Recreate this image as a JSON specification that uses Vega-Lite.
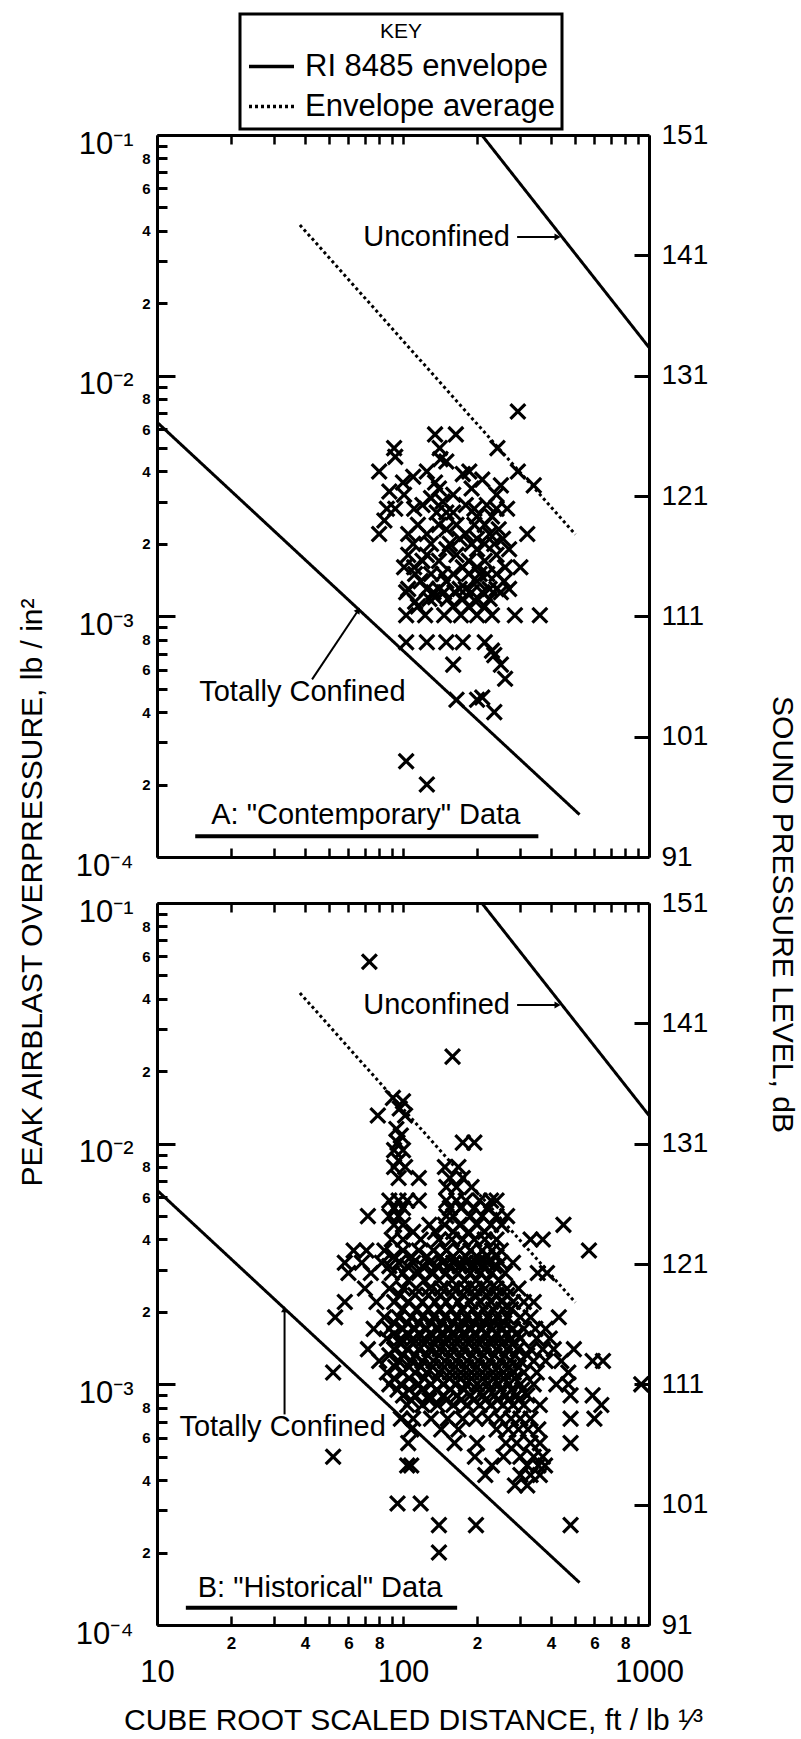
{
"$schema": "https://vega.github.io/schema/vega-lite/v6.json",
"background": "white",
"padding": {"left": 17, "top": 12, "right": 6, "bottom": 0},
"autosize": {"type": "pad"},
"bounds": "flush",
"spacing": 46,
"config": {"font": "Liberation Sans", "view": {"stroke": null}, "axis": {"grid": false}, "legend": {"strokeWidth": 3}},
"datasets": {
"env": [
{"g":"u","t":"RI 8485 envelope","x":209,"y":0.1},
{"g":"u","t":"RI 8485 envelope","x":1000,"y":0.0131},
{"g":"c","t":"RI 8485 envelope","x":10,"y":0.00641},
{"g":"c","t":"RI 8485 envelope","x":522,"y":0.00015},
{"g":"a","t":"Envelope average","x":38.1,"y":0.0423},
{"g":"a","t":"Envelope average","x":502,"y":0.00219}
],
"txt": [
{"p":"A","x":137,"y":0.0377,"t":"Unconfined"},
{"p":"A","x":39,"y":0.000483,"t":"Totally Confined"},
{"p":"A","x":70.6,"y":0.000149,"t":"A: \"Contemporary\" Data"},
{"p":"B","x":137,"y":0.0377,"t":"Unconfined"},
{"p":"B","x":32.4,"y":0.000662,"t":"Totally Confined"},
{"p":"B","x":46,"y":0.000143,"t":"B: \"Historical\" Data"}
],
"rules": [
{"p":"A","k":"u","x":14.3,"x2":355,"y":0.000122,"y2":0.000122},
{"p":"A","k":"a","x":291,"x2":425,"y":0.0377,"y2":0.0377},
{"p":"A","k":"a","x":42.7,"x2":65.8,"y":0.000547,"y2":0.00106},
{"p":"B","k":"u","x":13.1,"x2":166,"y":0.000118,"y2":0.000118},
{"p":"B","k":"a","x":291,"x2":425,"y":0.0377,"y2":0.0377},
{"p":"B","k":"a","x":33,"x2":33,"y":0.00075,"y2":0.00205}
],
"heads": [
{"p":"A","x":425,"y":0.0377,"a":90},
{"p":"A","x":65.8,"y":0.00106,"a":34},
{"p":"B","x":425,"y":0.0377,"a":90},
{"p":"B","x":33,"y":0.00205,"a":0}
],
"db": [{"db":91},{"db":151}],
"ptsA": [
{"x":293,"y":0.0071},{"x":135,"y":0.0057},{"x":164,"y":0.0057},{"x":242,"y":0.005},{"x":92,"y":0.005},{"x":93,"y":0.0046},{"x":141,"y":0.005},{"x":142,"y":0.0045},{"x":80,"y":0.004},{"x":125,"y":0.004},{"x":186,"y":0.004},{"x":293,"y":0.004},{"x":340,"y":0.0035},{"x":135,"y":0.0036},{"x":140,"y":0.0034},{"x":250,"y":0.0035},{"x":101,"y":0.0032},{"x":86,"y":0.0028},{"x":93,"y":0.0028},{"x":111,"y":0.0028},{"x":137,"y":0.0027},{"x":150,"y":0.0027},{"x":180,"y":0.0029},{"x":219,"y":0.0029},{"x":265,"y":0.0028},{"x":84,"y":0.0025},{"x":80,"y":0.0022},{"x":105,"y":0.0022},{"x":125,"y":0.0022},{"x":150,"y":0.0023},{"x":180,"y":0.0022},{"x":225,"y":0.0022},{"x":245,"y":0.0023},{"x":320,"y":0.0022},{"x":105,"y":0.0018},{"x":125,"y":0.0018},{"x":150,"y":0.0019},{"x":165,"y":0.0018},{"x":200,"y":0.0019},{"x":240,"y":0.0018},{"x":270,"y":0.0019},{"x":101,"y":0.0016},{"x":111,"y":0.0016},{"x":145,"y":0.0015},{"x":175,"y":0.0016},{"x":200,"y":0.0016},{"x":260,"y":0.0016},{"x":300,"y":0.0016},{"x":105,"y":0.0013},{"x":125,"y":0.0013},{"x":150,"y":0.0014},{"x":200,"y":0.0014},{"x":240,"y":0.0013},{"x":270,"y":0.0013},{"x":103,"y":0.00126},{"x":133,"y":0.00126},{"x":147,"y":0.00126},{"x":162,"y":0.00126},{"x":190,"y":0.00126},{"x":210,"y":0.00126},{"x":250,"y":0.00126},{"x":103,"y":0.00101},{"x":123,"y":0.00101},{"x":147,"y":0.00101},{"x":172,"y":0.00101},{"x":200,"y":0.00101},{"x":230,"y":0.00101},{"x":285,"y":0.00101},{"x":360,"y":0.00101},{"x":103,"y":0.00078},{"x":125,"y":0.00078},{"x":150,"y":0.00078},{"x":175,"y":0.00078},{"x":215,"y":0.00078},{"x":235,"y":0.00069},{"x":230,"y":0.00072},{"x":160,"y":0.00063},{"x":250,"y":0.00063},{"x":260,"y":0.00055},{"x":165,"y":0.00045},{"x":200,"y":0.00045},{"x":210,"y":0.00046},{"x":235,"y":0.0004},{"x":103,"y":0.00025},{"x":125,"y":0.0002},
{"x":115,"y":0.0011},{"x":135,"y":0.0012},{"x":160,"y":0.0011},{"x":185,"y":0.0011},{"x":215,"y":0.0011},{"x":118,"y":0.0014},{"x":140,"y":0.0013},{"x":170,"y":0.0013},{"x":185,"y":0.0015},{"x":220,"y":0.0015},{"x":120,"y":0.0017},{"x":140,"y":0.0017},{"x":185,"y":0.0017},{"x":215,"y":0.0017},{"x":235,"y":0.002},{"x":255,"y":0.0021},{"x":130,"y":0.002},{"x":110,"y":0.002},{"x":170,"y":0.0021},{"x":200,"y":0.0021},{"x":145,"y":0.003},{"x":160,"y":0.0032},{"x":120,"y":0.0029},{"x":200,"y":0.0026},{"x":230,"y":0.0026},{"x":240,"y":0.0032},{"x":190,"y":0.0034},{"x":175,"y":0.0039},{"x":150,"y":0.0044},{"x":130,"y":0.0031},{"x":210,"y":0.0037},{"x":100,"y":0.0036},{"x":88,"y":0.0033},{"x":110,"y":0.0038},
{"x":112,"y":0.00115},{"x":128,"y":0.00118},{"x":152,"y":0.00118},{"x":175,"y":0.00118},{"x":198,"y":0.00115},{"x":225,"y":0.00118},{"x":112,"y":0.0015},{"x":130,"y":0.0015},{"x":160,"y":0.0015},{"x":205,"y":0.0015},{"x":240,"y":0.0015},{"x":115,"y":0.0024},{"x":140,"y":0.0024},{"x":165,"y":0.0024},{"x":195,"y":0.0024},{"x":215,"y":0.0024},{"x":155,"y":0.002},{"x":190,"y":0.002},{"x":215,"y":0.002},{"x":160,"y":0.0027},{"x":195,"y":0.0028},{"x":240,"y":0.0028},{"x":180,"y":0.0013},{"x":225,"y":0.0013},{"x":258,"y":0.0014}
],
"ptsB": [
{"x":73,"y":0.057},{"x":159,"y":0.023},{"x":91,"y":0.0155},{"x":100,"y":0.015},{"x":97,"y":0.014},{"x":79,"y":0.0131},{"x":102,"y":0.0131},{"x":94,"y":0.0115},{"x":98,"y":0.0108},{"x":95,"y":0.0101},{"x":175,"y":0.0101},{"x":195,"y":0.0101},{"x":92,"y":0.0094},{"x":100,"y":0.0094},{"x":96,"y":0.0085},
{"x":92,"y":0.008},{"x":102,"y":0.008},{"x":148,"y":0.008},{"x":168,"y":0.008},
{"x":96,"y":0.0072},{"x":116,"y":0.0072},{"x":155,"y":0.0072},{"x":175,"y":0.0072},
{"x":150,"y":0.0066},{"x":165,"y":0.0066},{"x":190,"y":0.0066},
{"x":88,"y":0.0058},{"x":96,"y":0.0058},{"x":104,"y":0.0058},{"x":116,"y":0.0058},{"x":150,"y":0.0058},{"x":165,"y":0.0058},{"x":180,"y":0.0058},{"x":205,"y":0.0058},{"x":228,"y":0.0058},{"x":240,"y":0.0058},
{"x":92,"y":0.0054},{"x":100,"y":0.0054},{"x":155,"y":0.0054},{"x":172,"y":0.0054},{"x":195,"y":0.0054},{"x":220,"y":0.0054},
{"x":72,"y":0.005},{"x":88,"y":0.005},{"x":96,"y":0.005},{"x":150,"y":0.005},{"x":160,"y":0.005},{"x":188,"y":0.005},{"x":210,"y":0.005},{"x":240,"y":0.005},{"x":265,"y":0.005},
{"x":92,"y":0.0046},{"x":100,"y":0.0046},{"x":128,"y":0.0046},{"x":148,"y":0.0046},{"x":170,"y":0.0046},{"x":200,"y":0.0046},{"x":228,"y":0.0046},{"x":252,"y":0.0046},{"x":449,"y":0.0046},
{"x":110,"y":0.0043},{"x":135,"y":0.0043},{"x":160,"y":0.0043},{"x":185,"y":0.0043},{"x":215,"y":0.0043},
{"x":90,"y":0.004},{"x":100,"y":0.004},{"x":118,"y":0.004},{"x":140,"y":0.004},{"x":158,"y":0.004},{"x":175,"y":0.004},{"x":195,"y":0.004},{"x":215,"y":0.004},{"x":240,"y":0.004},{"x":330,"y":0.004},{"x":370,"y":0.004},
{"x":63,"y":0.0036},{"x":71,"y":0.0036},{"x":84,"y":0.0036},{"x":100,"y":0.0036},{"x":116,"y":0.0036},{"x":133,"y":0.0036},{"x":150,"y":0.0036},{"x":170,"y":0.0036},{"x":188,"y":0.0036},{"x":210,"y":0.0036},{"x":230,"y":0.0036},{"x":250,"y":0.0036},{"x":570,"y":0.0036},
{"x":92,"y":0.0034},{"x":108,"y":0.0034},{"x":125,"y":0.0034},{"x":142,"y":0.0034},{"x":160,"y":0.0034},{"x":180,"y":0.0034},{"x":200,"y":0.0034},{"x":220,"y":0.0034},{"x":240,"y":0.0034},
{"x":58,"y":0.0032},{"x":68,"y":0.0032},{"x":82,"y":0.0032},{"x":96,"y":0.0032},{"x":110,"y":0.0032},{"x":128,"y":0.0032},{"x":145,"y":0.0032},{"x":160,"y":0.0032},{"x":180,"y":0.0032},{"x":200,"y":0.0032},{"x":220,"y":0.0032},{"x":250,"y":0.0032},{"x":280,"y":0.0032},
{"x":88,"y":0.0031},{"x":104,"y":0.0031},{"x":120,"y":0.0031},{"x":137,"y":0.0031},{"x":153,"y":0.0031},{"x":170,"y":0.0031},{"x":190,"y":0.0031},{"x":210,"y":0.0031},{"x":235,"y":0.0031},
{"x":60,"y":0.0029},{"x":74,"y":0.0029},{"x":90,"y":0.0029},{"x":100,"y":0.0029},{"x":116,"y":0.0029},{"x":133,"y":0.0029},{"x":150,"y":0.0029},{"x":168,"y":0.0029},{"x":188,"y":0.0029},{"x":207,"y":0.0029},{"x":230,"y":0.0029},{"x":260,"y":0.0029},{"x":353,"y":0.0029},{"x":385,"y":0.0029},
{"x":105,"y":0.0027},{"x":122,"y":0.0027},{"x":140,"y":0.0027},{"x":158,"y":0.0027},{"x":178,"y":0.0027},{"x":198,"y":0.0027},{"x":220,"y":0.0027},{"x":245,"y":0.0027},
{"x":70,"y":0.0025},{"x":88,"y":0.0025},{"x":100,"y":0.0025},{"x":113,"y":0.0025},{"x":128,"y":0.0025},{"x":143,"y":0.0025},{"x":160,"y":0.0025},{"x":178,"y":0.0025},{"x":196,"y":0.0025},{"x":216,"y":0.0025},{"x":240,"y":0.0025},{"x":265,"y":0.0025},{"x":295,"y":0.0025},
{"x":97,"y":0.00235},{"x":112,"y":0.00235},{"x":127,"y":0.00235},{"x":142,"y":0.00235},{"x":158,"y":0.00235},{"x":176,"y":0.00235},{"x":196,"y":0.00235},{"x":218,"y":0.00235},{"x":240,"y":0.00235},{"x":265,"y":0.00235},
{"x":58,"y":0.0022},{"x":78,"y":0.0022},{"x":92,"y":0.0022},{"x":105,"y":0.0022},{"x":120,"y":0.0022},{"x":135,"y":0.0022},{"x":150,"y":0.0022},{"x":168,"y":0.0022},{"x":188,"y":0.0022},{"x":207,"y":0.0022},{"x":228,"y":0.0022},{"x":252,"y":0.0022},{"x":280,"y":0.0022},{"x":310,"y":0.0022},{"x":340,"y":0.0022},
{"x":100,"y":0.00205},{"x":114,"y":0.00205},{"x":127,"y":0.00205},{"x":141,"y":0.00205},{"x":157,"y":0.00205},{"x":174,"y":0.00205},{"x":192,"y":0.00205},{"x":212,"y":0.00205},{"x":232,"y":0.00205},{"x":255,"y":0.00205},{"x":275,"y":0.00205},
{"x":53,"y":0.0019},{"x":84,"y":0.0019},{"x":96,"y":0.0019},{"x":108,"y":0.0019},{"x":120,"y":0.0019},{"x":133,"y":0.0019},{"x":148,"y":0.0019},{"x":165,"y":0.0019},{"x":180,"y":0.0019},{"x":200,"y":0.0019},{"x":220,"y":0.0019},{"x":240,"y":0.0019},{"x":265,"y":0.0019},{"x":300,"y":0.0019},{"x":330,"y":0.0019},{"x":430,"y":0.0019},
{"x":92,"y":0.0018},{"x":104,"y":0.0018},{"x":116,"y":0.0018},{"x":130,"y":0.0018},{"x":144,"y":0.0018},{"x":160,"y":0.0018},{"x":176,"y":0.0018},{"x":195,"y":0.0018},{"x":215,"y":0.0018},{"x":235,"y":0.0018},{"x":258,"y":0.0018},
{"x":76,"y":0.0017},{"x":88,"y":0.0017},{"x":100,"y":0.0017},{"x":112,"y":0.0017},{"x":125,"y":0.0017},{"x":140,"y":0.0017},{"x":155,"y":0.0017},{"x":172,"y":0.0017},{"x":190,"y":0.0017},{"x":210,"y":0.0017},{"x":232,"y":0.0017},{"x":255,"y":0.0017},{"x":280,"y":0.0017},{"x":310,"y":0.0017},{"x":345,"y":0.0017},{"x":380,"y":0.0017},
{"x":92,"y":0.00162},{"x":104,"y":0.00162},{"x":116,"y":0.00162},{"x":129,"y":0.00162},{"x":143,"y":0.00162},{"x":158,"y":0.00162},{"x":175,"y":0.00162},{"x":195,"y":0.00162},{"x":217,"y":0.00162},{"x":240,"y":0.00162},{"x":262,"y":0.00162},{"x":290,"y":0.00162},
{"x":86,"y":0.00155},{"x":98,"y":0.00155},{"x":110,"y":0.00155},{"x":122,"y":0.00155},{"x":136,"y":0.00155},{"x":150,"y":0.00155},{"x":166,"y":0.00155},{"x":185,"y":0.00155},{"x":205,"y":0.00155},{"x":228,"y":0.00155},{"x":250,"y":0.00155},{"x":275,"y":0.00155},{"x":300,"y":0.00155},{"x":350,"y":0.00155},{"x":395,"y":0.00155},
{"x":98,"y":0.00147},{"x":110,"y":0.00147},{"x":122,"y":0.00147},{"x":135,"y":0.00147},{"x":149,"y":0.00147},{"x":166,"y":0.00147},{"x":185,"y":0.00147},{"x":205,"y":0.00147},{"x":228,"y":0.00147},{"x":252,"y":0.00147},{"x":278,"y":0.00147},
{"x":72,"y":0.0014},{"x":92,"y":0.0014},{"x":104,"y":0.0014},{"x":116,"y":0.0014},{"x":128,"y":0.0014},{"x":141,"y":0.0014},{"x":157,"y":0.0014},{"x":175,"y":0.0014},{"x":195,"y":0.0014},{"x":215,"y":0.0014},{"x":240,"y":0.0014},{"x":265,"y":0.0014},{"x":292,"y":0.0014},{"x":330,"y":0.0014},{"x":370,"y":0.0014},{"x":410,"y":0.0014},{"x":495,"y":0.0014},
{"x":88,"y":0.00132},{"x":100,"y":0.00132},{"x":112,"y":0.00132},{"x":126,"y":0.00132},{"x":140,"y":0.00132},{"x":156,"y":0.00132},{"x":173,"y":0.00132},{"x":192,"y":0.00132},{"x":213,"y":0.00132},{"x":236,"y":0.00132},{"x":260,"y":0.00132},{"x":286,"y":0.00132},{"x":320,"y":0.00132},
{"x":80,"y":0.00125},{"x":96,"y":0.00125},{"x":108,"y":0.00125},{"x":120,"y":0.00125},{"x":133,"y":0.00125},{"x":148,"y":0.00125},{"x":164,"y":0.00125},{"x":182,"y":0.00125},{"x":202,"y":0.00125},{"x":224,"y":0.00125},{"x":248,"y":0.00125},{"x":272,"y":0.00125},{"x":300,"y":0.00125},{"x":340,"y":0.00125},{"x":380,"y":0.00125},{"x":440,"y":0.00125},{"x":590,"y":0.00125},{"x":650,"y":0.00125},
{"x":93,"y":0.00118},{"x":106,"y":0.00118},{"x":118,"y":0.00118},{"x":132,"y":0.00118},{"x":147,"y":0.00118},{"x":163,"y":0.00118},{"x":181,"y":0.00118},{"x":200,"y":0.00118},{"x":221,"y":0.00118},{"x":244,"y":0.00118},{"x":270,"y":0.00118},{"x":295,"y":0.00118},
{"x":52,"y":0.00112},{"x":86,"y":0.00112},{"x":100,"y":0.00112},{"x":112,"y":0.00112},{"x":125,"y":0.00112},{"x":140,"y":0.00112},{"x":155,"y":0.00112},{"x":172,"y":0.00112},{"x":190,"y":0.00112},{"x":210,"y":0.00112},{"x":232,"y":0.00112},{"x":256,"y":0.00112},{"x":282,"y":0.00112},{"x":310,"y":0.00112},{"x":350,"y":0.00112},{"x":470,"y":0.00112},
{"x":92,"y":0.00106},{"x":106,"y":0.00106},{"x":122,"y":0.00106},{"x":138,"y":0.00106},{"x":155,"y":0.00106},{"x":172,"y":0.00106},{"x":190,"y":0.00106},{"x":211,"y":0.00106},{"x":233,"y":0.00106},{"x":257,"y":0.00106},{"x":285,"y":0.00106},
{"x":88,"y":0.001},{"x":98,"y":0.001},{"x":116,"y":0.001},{"x":130,"y":0.001},{"x":146,"y":0.001},{"x":163,"y":0.001},{"x":180,"y":0.001},{"x":200,"y":0.001},{"x":222,"y":0.001},{"x":245,"y":0.001},{"x":270,"y":0.001},{"x":300,"y":0.001},{"x":340,"y":0.001},{"x":420,"y":0.001},{"x":470,"y":0.001},{"x":930,"y":0.001},
{"x":95,"y":0.00095},{"x":106,"y":0.00095},{"x":120,"y":0.00095},{"x":137,"y":0.00095},{"x":156,"y":0.00095},{"x":177,"y":0.00095},{"x":200,"y":0.00095},{"x":224,"y":0.00095},{"x":249,"y":0.00095},{"x":276,"y":0.00095},{"x":305,"y":0.00095},
{"x":100,"y":0.0009},{"x":112,"y":0.0009},{"x":128,"y":0.0009},{"x":146,"y":0.0009},{"x":166,"y":0.0009},{"x":188,"y":0.0009},{"x":212,"y":0.0009},{"x":236,"y":0.0009},{"x":262,"y":0.0009},{"x":290,"y":0.0009},{"x":320,"y":0.0009},{"x":480,"y":0.0009},{"x":590,"y":0.0009},
{"x":108,"y":0.00086},{"x":128,"y":0.00086},{"x":150,"y":0.00086},{"x":172,"y":0.00086},{"x":194,"y":0.00086},{"x":216,"y":0.00086},{"x":242,"y":0.00086},{"x":268,"y":0.00086},{"x":295,"y":0.00086},
{"x":104,"y":0.00082},{"x":120,"y":0.00082},{"x":138,"y":0.00082},{"x":160,"y":0.00082},{"x":182,"y":0.00082},{"x":205,"y":0.00082},{"x":228,"y":0.00082},{"x":255,"y":0.00082},{"x":280,"y":0.00082},{"x":310,"y":0.00082},{"x":360,"y":0.00082},{"x":640,"y":0.00082},
{"x":98,"y":0.00072},{"x":110,"y":0.00072},{"x":130,"y":0.00072},{"x":152,"y":0.00072},{"x":175,"y":0.00072},{"x":198,"y":0.00072},{"x":222,"y":0.00072},{"x":248,"y":0.00072},{"x":275,"y":0.00072},{"x":300,"y":0.00072},{"x":330,"y":0.00072},{"x":480,"y":0.00072},{"x":600,"y":0.00072},
{"x":108,"y":0.00065},{"x":143,"y":0.00065},{"x":168,"y":0.00065},{"x":240,"y":0.00065},{"x":268,"y":0.00065},{"x":295,"y":0.00065},{"x":322,"y":0.00065},{"x":355,"y":0.00065},
{"x":105,"y":0.00057},{"x":162,"y":0.00057},{"x":200,"y":0.00057},{"x":262,"y":0.00057},{"x":290,"y":0.00057},{"x":330,"y":0.00057},{"x":360,"y":0.00057},{"x":480,"y":0.00057},
{"x":52,"y":0.0005},{"x":196,"y":0.0005},{"x":256,"y":0.0005},{"x":300,"y":0.0005},{"x":340,"y":0.0005},{"x":370,"y":0.0005},
{"x":104,"y":0.00046},{"x":108,"y":0.00046},{"x":230,"y":0.00046},{"x":320,"y":0.00046},{"x":355,"y":0.00046},{"x":378,"y":0.00046},
{"x":216,"y":0.00042},{"x":300,"y":0.00042},{"x":330,"y":0.00042},{"x":360,"y":0.00042},
{"x":285,"y":0.00038},{"x":320,"y":0.00038},
{"x":95,"y":0.00032},{"x":118,"y":0.00032},
{"x":140,"y":0.00026},{"x":198,"y":0.00026},{"x":480,"y":0.00026},
{"x":140,"y":0.0002}
]
},
"vconcat": [
{
"width": 492, "height": 722,
"layer": [
{
"data": {"name": "ptsA"},
"mark": {"type": "point", "shape": "M-1,-1L1,1M-1,1L1,-1", "filled": false, "stroke": "black", "strokeWidth": 3.2, "size": 220, "opacity": 1},
"encoding": {
"x": {"field": "x", "type": "quantitative", "scale": {"type": "log", "domain": [10, 1000], "nice": false},
 "axis": {"orient": "bottom", "values": [10,20,30,40,50,60,70,80,90,100,200,300,400,500,600,700,800,900,1000], "labels": false, "title": null, "domain": true, "domainColor": "black", "domainWidth": 3, "ticks": true, "tickColor": "black", "tickWidth": 2.5, "tickSize": -9, "grid": false}},
"y": {"field": "y", "type": "quantitative", "scale": {"type": "log", "domain": [0.0001, 0.1], "nice": false},
 "axis": {"orient": "left", "values": [0.0001,0.0002,0.0003,0.0004,0.0005,0.0006,0.0007,0.0008,0.0009,0.001,0.002,0.003,0.004,0.005,0.006,0.007,0.008,0.009,0.01,0.02,0.03,0.04,0.05,0.06,0.07,0.08,0.09,0.1],
  "domain": true, "domainColor": "black", "domainWidth": 3, "ticks": true, "tickColor": "black", "tickWidth": 3,
  "tickSize": {"condition": {"test": "indexof([0.0001,0.001,0.01,0.1], datum.value) >= 0", "value": -18}, "value": -10},
  "labelExpr": "datum.value == 0.1 ? '10⁻¹' : datum.value == 0.01 ? '10⁻²' : datum.value == 0.001 ? '10⁻³' : datum.value == 0.0001 ? '10⁻⁴' : (indexof([0.0002,0.0004,0.0006,0.0008,0.002,0.004,0.006,0.008,0.02,0.04,0.06,0.08], datum.value) >= 0 ? format(datum.value * pow(10, -floor(log(datum.value) / LN10 + 0.000001)), '.0f') : '')",
  "labelFontSize": {"condition": {"test": "indexof([0.0001,0.001,0.01,0.1], datum.value) >= 0", "value": 31}, "value": 15},
  "labelFontWeight": {"condition": {"test": "indexof([0.0001,0.001,0.01,0.1], datum.value) >= 0", "value": "normal"}, "value": "bold"},
  "labelPadding": {"condition": {"test": "indexof([0.0001,0.001,0.01,0.1], datum.value) >= 0", "value": 42}, "value": 17},
  "labelOffset": {"condition": {"test": "indexof([0.0001,0.001,0.01,0.1], datum.value) >= 0", "value": 9}, "value": 0},
  "labelBaseline": "middle", "labelAlign": "right", "labelColor": "black", "labelOverlap": false, "labelFlush": false, "labelBound": false, "grid": false,
  "title": "PEAK AIRBLAST OVERPRESSURE, lb / in²", "titleFontSize": 30, "titleFontWeight": "normal", "titleColor": "black", "titleAngle": 270, "titleX": -125, "titleY": 757, "titleAlign": "center", "titleBaseline": "middle"}}
}
},
{
"data": {"name": "env"},
"mark": {"type": "line", "clip": true, "strokeWidth": 3, "color": "black"},
"encoding": {
"x": {"field": "x", "type": "quantitative", "scale": {"type": "log", "domain": [10, 1000], "nice": false},
 "axis": {"orient": "top", "values": [10,20,30,40,50,60,70,80,90,100,200,300,400,500,600,700,800,900,1000], "labels": false, "title": null, "domain": true, "domainColor": "black", "domainWidth": 3, "ticks": true, "tickColor": "black", "tickWidth": 2.5, "tickSize": -9, "grid": false}},
"y": {"field": "y", "type": "quantitative", "scale": {"type": "log", "domain": [0.0001, 0.1], "nice": false}, "axis": null},
"detail": {"field": "g", "type": "nominal"},
"strokeDash": {"field": "t", "type": "nominal", "scale": {"domain": ["RI 8485 envelope", "Envelope average"], "range": [[1, 0], [3, 3]]},
 "legend": {"orient": "none", "legendX": 83, "legendY": -121, "title": "KEY", "titleFontSize": 21, "titleFontWeight": "normal", "titleColor": "black", "titleAnchor": "middle", "titlePadding": 0,
  "labelFontSize": 31, "labelLimit": 500, "labelColor": "black", "labelOffset": 9, "symbolType": "stroke", "symbolSize": 2025, "symbolStrokeWidth": 3.5, "symbolStrokeColor": "black", "strokeColor": "black", "padding": 7, "rowPadding": 0}}
}
},
{
"data": {"name": "txt"},
"transform": [{"filter": "datum.p == 'A'"}],
"mark": {"type": "text", "fontSize": 29, "align": "center", "baseline": "middle", "color": "black"},
"encoding": {
"x": {"field": "x", "type": "quantitative", "scale": {"type": "log", "domain": [10, 1000], "nice": false}, "axis": null},
"y": {"field": "y", "type": "quantitative", "scale": {"type": "log", "domain": [0.0001, 0.1], "nice": false}, "axis": null},
"text": {"field": "t", "type": "nominal"}
}
},
{
"data": {"name": "rules"},
"transform": [{"filter": "datum.p == 'A'"}],
"mark": {"type": "rule", "color": "black"},
"encoding": {
"x": {"field": "x", "type": "quantitative", "scale": {"type": "log", "domain": [10, 1000], "nice": false}, "axis": null},
"x2": {"field": "x2"},
"y": {"field": "y", "type": "quantitative", "scale": {"type": "log", "domain": [0.0001, 0.1], "nice": false}, "axis": null},
"y2": {"field": "y2"},
"strokeWidth": {"condition": {"test": "datum.k == 'u'", "value": 4}, "value": 2}
}
},
{
"data": {"name": "heads"},
"transform": [{"filter": "datum.p == 'A'"}],
"mark": {"type": "point", "shape": "triangle-up", "filled": true, "color": "black", "size": 50, "opacity": 1},
"encoding": {
"x": {"field": "x", "type": "quantitative", "scale": {"type": "log", "domain": [10, 1000], "nice": false}, "axis": null},
"y": {"field": "y", "type": "quantitative", "scale": {"type": "log", "domain": [0.0001, 0.1], "nice": false}, "axis": null},
"angle": {"field": "a", "type": "quantitative", "scale": null}
}
},
{
"data": {"name": "db"},
"mark": {"type": "point", "opacity": 0},
"encoding": {
"y": {"field": "db", "type": "quantitative", "scale": {"domain": [91, 151], "nice": false, "zero": false},
 "axis": {"orient": "right", "values": [91,101,111,121,131,141,151], "format": "d", "domain": true, "domainColor": "black", "domainWidth": 3, "ticks": true, "tickColor": "black", "tickWidth": 3,
  "tickSize": {"condition": {"test": "datum.value == 91 || datum.value == 151", "value": 0}, "value": -15},
  "labelPadding": {"condition": {"test": "datum.value == 91 || datum.value == 151", "value": 12}, "value": 27},
  "labelFontSize": 28, "labelColor": "black", "labelBaseline": "middle", "labelOverlap": false, "labelFlush": false, "labelBound": false, "grid": false,
  "title": "SOUND PRESSURE LEVEL, dB", "titleFontSize": 30, "titleFontWeight": "normal", "titleColor": "black", "titleAngle": 90, "titleX": 132, "titleY": 779, "titleAlign": "center", "titleBaseline": "middle"}}
}
}
],
"resolve": {"scale": {"y": "independent"}, "axis": {"x": "independent", "y": "independent"}}
},
{
"width": 492, "height": 722,
"layer": [
{
"data": {"name": "ptsB"},
"mark": {"type": "point", "shape": "M-1,-1L1,1M-1,1L1,-1", "filled": false, "stroke": "black", "strokeWidth": 3.2, "size": 220, "opacity": 1},
"encoding": {
"x": {"field": "x", "type": "quantitative", "scale": {"type": "log", "domain": [10, 1000], "nice": false},
 "axis": {"orient": "bottom", "values": [10,20,30,40,50,60,70,80,90,100,200,300,400,500,600,700,800,900,1000], "domain": true, "domainColor": "black", "domainWidth": 3, "ticks": true, "tickColor": "black", "tickWidth": 2.5, "tickSize": -9, "grid": false,
  "labelExpr": "indexof([10,100,1000], datum.value) >= 0 ? format(datum.value, 'd') : (indexof([20,40,60,80], datum.value) >= 0 ? format(datum.value / 10, 'd') : (indexof([200,400,600,800], datum.value) >= 0 ? format(datum.value / 100, 'd') : ''))",
  "labelFontSize": {"condition": {"test": "indexof([10,100,1000], datum.value) >= 0", "value": 31}, "value": 17},
  "labelFontWeight": {"condition": {"test": "indexof([10,100,1000], datum.value) >= 0", "value": "normal"}, "value": "bold"},
  "labelPadding": {"condition": {"test": "indexof([10,100,1000], datum.value) >= 0", "value": 41}, "value": 19},
  "labelBaseline": "top", "labelAlign": "center", "labelColor": "black", "labelOverlap": false, "labelFlush": false, "labelBound": false,
  "title": "CUBE ROOT SCALED DISTANCE, ft / lb ¹⁄³", "titleFontSize": 30, "titleFontWeight": "normal", "titleColor": "black", "titleX": 256, "titleY": 95, "titleAlign": "center", "titleBaseline": "middle"}},
"y": {"field": "y", "type": "quantitative", "scale": {"type": "log", "domain": [0.0001, 0.1], "nice": false},
 "axis": {"orient": "left", "values": [0.0001,0.0002,0.0003,0.0004,0.0005,0.0006,0.0007,0.0008,0.0009,0.001,0.002,0.003,0.004,0.005,0.006,0.007,0.008,0.009,0.01,0.02,0.03,0.04,0.05,0.06,0.07,0.08,0.09,0.1],
  "domain": true, "domainColor": "black", "domainWidth": 3, "ticks": true, "tickColor": "black", "tickWidth": 3,
  "tickSize": {"condition": {"test": "indexof([0.0001,0.001,0.01,0.1], datum.value) >= 0", "value": -18}, "value": -10},
  "labelExpr": "datum.value == 0.1 ? '10⁻¹' : datum.value == 0.01 ? '10⁻²' : datum.value == 0.001 ? '10⁻³' : datum.value == 0.0001 ? '10⁻⁴' : (indexof([0.0002,0.0004,0.0006,0.0008,0.002,0.004,0.006,0.008,0.02,0.04,0.06,0.08], datum.value) >= 0 ? format(datum.value * pow(10, -floor(log(datum.value) / LN10 + 0.000001)), '.0f') : '')",
  "labelFontSize": {"condition": {"test": "indexof([0.0001,0.001,0.01,0.1], datum.value) >= 0", "value": 31}, "value": 15},
  "labelFontWeight": {"condition": {"test": "indexof([0.0001,0.001,0.01,0.1], datum.value) >= 0", "value": "normal"}, "value": "bold"},
  "labelPadding": {"condition": {"test": "indexof([0.0001,0.001,0.01,0.1], datum.value) >= 0", "value": 42}, "value": 17},
  "labelOffset": {"condition": {"test": "indexof([0.0001,0.001,0.01,0.1], datum.value) >= 0", "value": 9}, "value": 0},
  "labelBaseline": "middle", "labelAlign": "right", "labelColor": "black", "labelOverlap": false, "labelFlush": false, "labelBound": false, "grid": false, "title": null}}
}
},
{
"data": {"name": "env"},
"mark": {"type": "line", "clip": true, "strokeWidth": 3, "color": "black"},
"encoding": {
"x": {"field": "x", "type": "quantitative", "scale": {"type": "log", "domain": [10, 1000], "nice": false},
 "axis": {"orient": "top", "values": [10,20,30,40,50,60,70,80,90,100,200,300,400,500,600,700,800,900,1000], "labels": false, "title": null, "domain": true, "domainColor": "black", "domainWidth": 3, "ticks": true, "tickColor": "black", "tickWidth": 2.5, "tickSize": -9, "grid": false}},
"y": {"field": "y", "type": "quantitative", "scale": {"type": "log", "domain": [0.0001, 0.1], "nice": false}, "axis": null},
"detail": {"field": "g", "type": "nominal"},
"strokeDash": {"field": "t", "type": "nominal", "scale": {"domain": ["RI 8485 envelope", "Envelope average"], "range": [[1, 0], [3, 3]]}, "legend": null}
}
},
{
"data": {"name": "txt"},
"transform": [{"filter": "datum.p == 'B'"}],
"mark": {"type": "text", "fontSize": 29, "align": "center", "baseline": "middle", "color": "black"},
"encoding": {
"x": {"field": "x", "type": "quantitative", "scale": {"type": "log", "domain": [10, 1000], "nice": false}, "axis": null},
"y": {"field": "y", "type": "quantitative", "scale": {"type": "log", "domain": [0.0001, 0.1], "nice": false}, "axis": null},
"text": {"field": "t", "type": "nominal"}
}
},
{
"data": {"name": "rules"},
"transform": [{"filter": "datum.p == 'B'"}],
"mark": {"type": "rule", "color": "black"},
"encoding": {
"x": {"field": "x", "type": "quantitative", "scale": {"type": "log", "domain": [10, 1000], "nice": false}, "axis": null},
"x2": {"field": "x2"},
"y": {"field": "y", "type": "quantitative", "scale": {"type": "log", "domain": [0.0001, 0.1], "nice": false}, "axis": null},
"y2": {"field": "y2"},
"strokeWidth": {"condition": {"test": "datum.k == 'u'", "value": 4}, "value": 2}
}
},
{
"data": {"name": "heads"},
"transform": [{"filter": "datum.p == 'B'"}],
"mark": {"type": "point", "shape": "triangle-up", "filled": true, "color": "black", "size": 50, "opacity": 1},
"encoding": {
"x": {"field": "x", "type": "quantitative", "scale": {"type": "log", "domain": [10, 1000], "nice": false}, "axis": null},
"y": {"field": "y", "type": "quantitative", "scale": {"type": "log", "domain": [0.0001, 0.1], "nice": false}, "axis": null},
"angle": {"field": "a", "type": "quantitative", "scale": null}
}
},
{
"data": {"name": "db"},
"mark": {"type": "point", "opacity": 0},
"encoding": {
"y": {"field": "db", "type": "quantitative", "scale": {"domain": [91, 151], "nice": false, "zero": false},
 "axis": {"orient": "right", "values": [91,101,111,121,131,141,151], "format": "d", "domain": true, "domainColor": "black", "domainWidth": 3, "ticks": true, "tickColor": "black", "tickWidth": 3,
  "tickSize": {"condition": {"test": "datum.value == 91 || datum.value == 151", "value": 0}, "value": -15},
  "labelPadding": {"condition": {"test": "datum.value == 91 || datum.value == 151", "value": 12}, "value": 27},
  "labelFontSize": 28, "labelColor": "black", "labelBaseline": "middle", "labelOverlap": false, "labelFlush": false, "labelBound": false, "grid": false, "title": null}}
}
}
],
"resolve": {"scale": {"y": "independent"}, "axis": {"x": "independent", "y": "independent"}}
}
]
}
